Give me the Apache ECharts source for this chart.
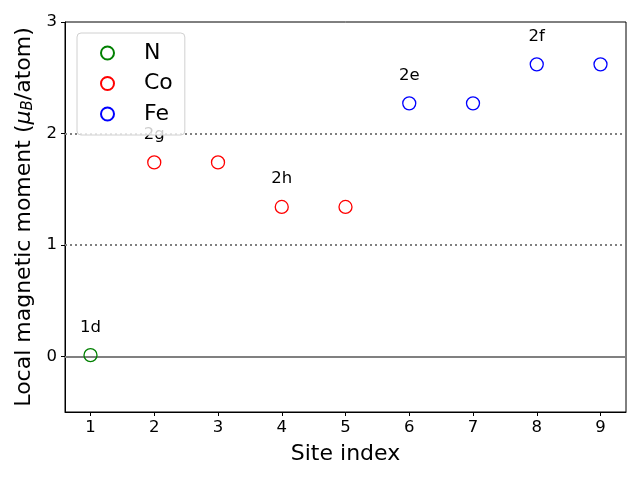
<!DOCTYPE html>
<html>
<head>
<meta charset="utf-8">
<script src="https://cdn.jsdelivr.net/npm/echarts@6/dist/echarts.min.js"></script>
<style>html,body{margin:0;padding:0;background:#fff}#c{width:640px;height:480px}</style>
</head>
<body>
<div id="c"></div>
<script>
const seriesNames = ['N', 'Co', 'Fe'];
const seriesColors = ['green', 'red', 'blue'];
const nSites = [1];
const nValues = [0.01];
const coSites = [2, 3, 4, 5];
const coValues = [1.74, 1.74, 1.34, 1.34];
const feSites = [6, 7, 8, 9];
const feValues = [2.27, 2.27, 2.62, 2.62];
const annotationSites = [1, 2, 4, 6, 8];
const annotationTexts = ['1d', '2g', '2h', '2e', '2f'];
const xTicks = [1, 2, 3, 4, 5, 6, 7, 8, 9];
const yTicks = [0, 1, 2, 3];
const dottedLines = [1, 2];
const solidLines = [0];

const allSites = nSites.concat(coSites, feSites);
const allValues = nValues.concat(coValues, feValues);
const annotationOffset = 0.25;
const annData = annotationSites.map((s, i) => {
  const v = allValues[allSites.indexOf(s)];
  return {value: [s, v + annotationOffset], label: {formatter: annotationTexts[i]}};
});

const FONT = 'DejaVu Sans';
const groups = [[nSites, nValues], [coSites, coValues], [feSites, feValues]];
const series = groups.map((g, i) => ({
  name: seriesNames[i],
  type: 'scatter',
  symbol: 'circle',
  symbolSize: 13,
  itemStyle: {color: 'rgba(255,255,255,0)', borderColor: seriesColors[i], borderWidth: 1.3, opacity: 1},
  data: g[0].map((s, j) => [s, g[1][j]]),
  z: 5
}));
series.push({
  type: 'scatter',
  symbolSize: 0,
  silent: true,
  itemStyle: {opacity: 1},
  data: annData,
  label: {show: true, position: 'inside', color: '#000', opacity: 1, fontSize: 16.5, fontFamily: FONT},
  markLine: {
    silent: true, symbol: 'none', label: {show: false},
    data: dottedLines.map(v => ({yAxis: v, lineStyle: {type: [2, 3], color: '#808080', width: 1.8, opacity: 1}}))
      .concat(solidLines.map(v => ({yAxis: v, lineStyle: {type: 'solid', color: '#808080', width: 1.8, opacity: 1}})))
  },
  z: 3
});

const chart = echarts.init(document.getElementById('c'), null, {renderer: 'canvas'});
chart.setOption({
  animation: false,
  backgroundColor: '#fff',
  textStyle: {fontFamily: FONT},
  grid: {left: 65, right: 14, top: 22, bottom: 68, show: true, borderColor: '#000', borderWidth: 1, backgroundColor: 'transparent'},
  legend: {
    data: seriesNames,
    orient: 'vertical',
    left: 77, top: 33,
    padding: [9, 12, 10, 23],
    itemGap: 8.5,
    itemWidth: 13, itemHeight: 13,
    backgroundColor: 'rgba(255,255,255,0.8)',
    borderColor: '#d0d0d0', borderWidth: 1, borderRadius: 4,
    textStyle: {fontSize: 22, lineHeight: 22, color: '#000', fontFamily: FONT, padding: [0, 0, 0, 25]},
    z: 10
  },
  xAxis: {
    type: 'value', min: 0.6, max: 9.4,
    name: 'Site index', nameLocation: 'middle', nameGap: 31,
    nameTextStyle: {fontSize: 22, color: '#000', fontFamily: FONT},
    axisLine: {show: true, onZero: false, lineStyle: {color: '#000', width: 1}},
    axisTick: {show: true, length: 4, customValues: xTicks, lineStyle: {color: '#000'}},
    axisLabel: {customValues: xTicks, fontSize: 16.5, color: '#000', margin: 7, fontFamily: FONT},
    splitLine: {show: false}
  },
  yAxis: {
    type: 'value', min: -0.5, max: 3,
    name: '{n|Local magnetic moment (}{i|μ}{s|B}{n|/atom)}',
    nameLocation: 'middle', nameGap: 27, nameRotate: 90,
    nameTextStyle: {
      fontSize: 22, color: '#000', fontFamily: FONT,
      rich: {
        n: {fontSize: 22, fontFamily: FONT, color: '#000'},
        i: {fontSize: 22, fontFamily: FONT, fontStyle: 'italic', color: '#000'},
        s: {fontSize: 15, fontFamily: FONT, fontStyle: 'italic', color: '#000', verticalAlign: 'bottom', padding: [8, 0, 0, 0]}
      }
    },
    axisLine: {show: true, onZero: false, lineStyle: {color: '#000', width: 1}},
    axisTick: {show: true, length: 4, customValues: yTicks, lineStyle: {color: '#000'}},
    axisLabel: {customValues: yTicks, fontSize: 16.5, color: '#000', margin: 8, fontFamily: FONT},
    splitLine: {show: false}
  },
  series: series
});
</script>
</body>
</html>
